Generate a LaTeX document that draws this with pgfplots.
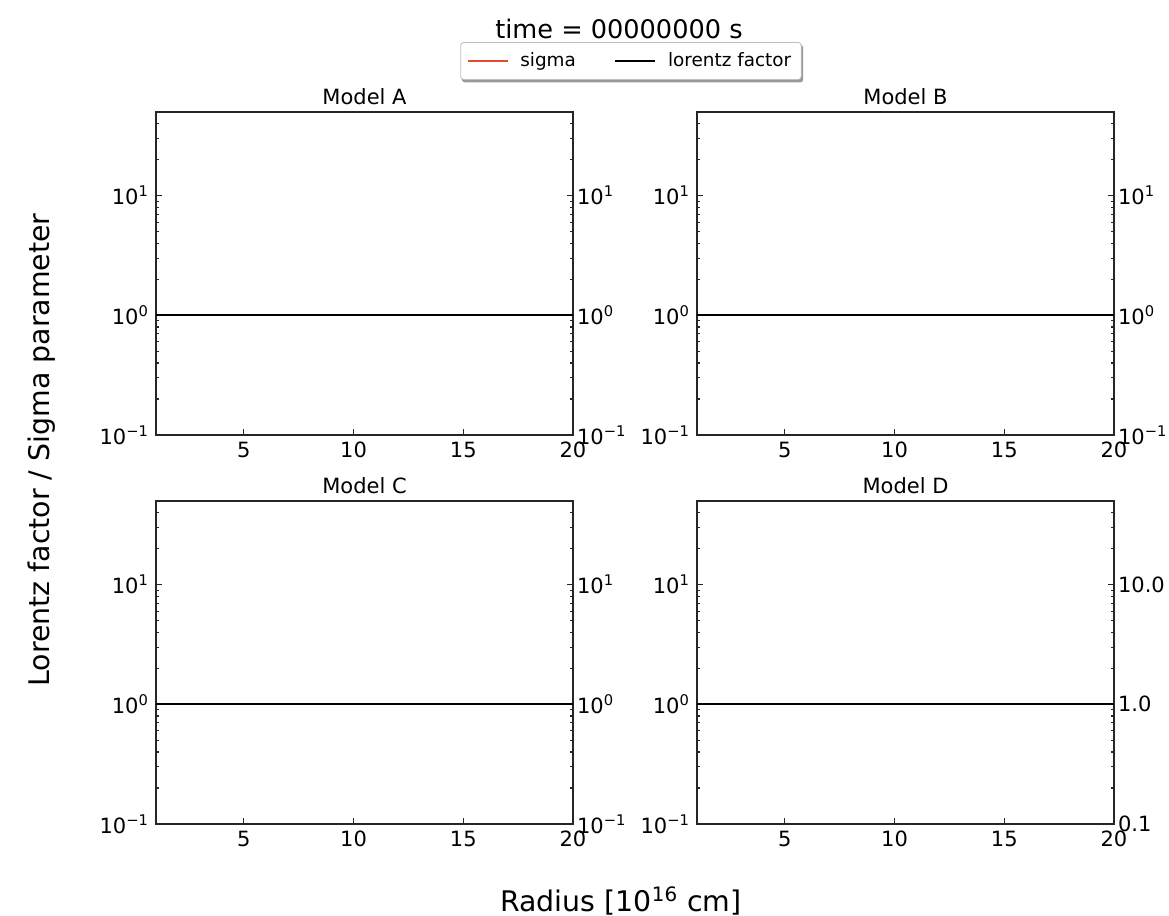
\documentclass[border=0pt]{standalone}
\usepackage{pgfplots}
\pgfplotsset{compat=1.18}
\usepackage{fontspec}
\setmainfont{DejaVu Sans}
\usetikzlibrary{backgrounds}
\definecolor{sigmared}{RGB}{226,74,51}

\pgfplotsset{
  every axis/.append style={
    width=208.5pt, height=161.5pt, scale only axis,
    anchor=south west,
    xmin=1, xmax=20, ymin=0.1, ymax=50,
    xtick={5,10,15,20}, xticklabels={5,10,15,20}, xtick pos=left,
    ytick={0.1,1,10},
    yticklabels={10\textsuperscript{−1},10\textsuperscript{0},10\textsuperscript{1}},
    minor ytick={0.2,0.3,0.4,0.5,0.6,0.7,0.8,0.9,2,3,4,5,6,7,8,9,20,30,40},
    ytick pos=both, yticklabel pos=left,
    tick align=inside,
    major tick length=3pt, minor tick length=1.6pt,
    axis line style={line width=0.8pt, black!85},
    tick style={black!85, line width=0.6pt},
    tick label style={font=\fontsize{10.5}{12}\selectfont},
    /pgf/number format/assume math mode=true,
    title style={font=\fontsize{10.5}{12}\selectfont, yshift=-6pt},
    extra y ticks={0.1,1,10},
    extra y tick style={yticklabel pos=right, major tick length=0pt,
      yticklabel style={xshift=-1.5pt}},
  },
}

\begin{document}
\begin{tikzpicture}
\useasboundingbox (-78pt,-46pt) rectangle (506.5pt,412pt);

% Model A
\begin{semilogyaxis}[at={(0pt,194.5pt)}, title={Model A},
  extra y tick labels={10\textsuperscript{−1},10\textsuperscript{0},10\textsuperscript{1}},
  legend columns=2,
  legend style={at={(1.139,1.158)}, anchor=center, name=leg,
    font=\fontsize{9.2}{11}\selectfont,
    draw=gray!50, rounded corners=1.5pt, line width=0.4pt,
    fill=white, inner xsep=3pt, inner ysep=3pt,
    /tikz/every odd column/.append style={column sep=4pt},
    /tikz/every even column/.append style={column sep=17pt}},
  legend image code/.code={\draw[#1] (0pt,0pt) -- (20pt,0pt);}]
\addplot[sigmared, line width=0.8pt] coordinates {(1,1) (20,1)};
\addlegendentry{sigma}
\addplot[black, line width=1.1pt] coordinates {(1,1) (20,1)};
\addlegendentry{lorentz factor}
\end{semilogyaxis}
\begin{pgfonlayer}{background}
\fill[gray!80, rounded corners=1.5pt] ([xshift=0.8pt,yshift=-1.3pt]leg.south west) rectangle ([xshift=0.8pt,yshift=-1.3pt]leg.north east);
\end{pgfonlayer}

% Model B
\begin{semilogyaxis}[at={(270.5pt,194.5pt)}, title={Model B},
  extra y tick labels={10\textsuperscript{−1},10\textsuperscript{0},10\textsuperscript{1}}]
\addplot[sigmared, line width=0.8pt] coordinates {(1,1) (20,1)};
\addplot[black, line width=1.1pt] coordinates {(1,1) (20,1)};
\end{semilogyaxis}

% Model C
\begin{semilogyaxis}[at={(0pt,0pt)}, title={Model C},
  extra y tick labels={10\textsuperscript{−1},10\textsuperscript{0},10\textsuperscript{1}}]
\addplot[sigmared, line width=0.8pt] coordinates {(1,1) (20,1)};
\addplot[black, line width=1.1pt] coordinates {(1,1) (20,1)};
\end{semilogyaxis}

% Model D
\begin{semilogyaxis}[at={(270.5pt,0pt)}, title={Model D},
  extra y tick labels={0.1,1.0,10.0}]
\addplot[sigmared, line width=0.8pt] coordinates {(1,1) (20,1)};
\addplot[black, line width=1.1pt] coordinates {(1,1) (20,1)};
\end{semilogyaxis}

\node at (231.5pt,397.5pt) {\fontsize{12.8}{15}\selectfont time = 00000000 s};
\node[rotate=90] at (-57pt,187pt) {\fontsize{14.2}{17}\selectfont Lorentz factor / Sigma parameter};
\node at (232.5pt,-38.5pt) {\fontsize{14.2}{17}\selectfont Radius [10\textsuperscript{16} cm]};
\end{tikzpicture}
\end{document}
